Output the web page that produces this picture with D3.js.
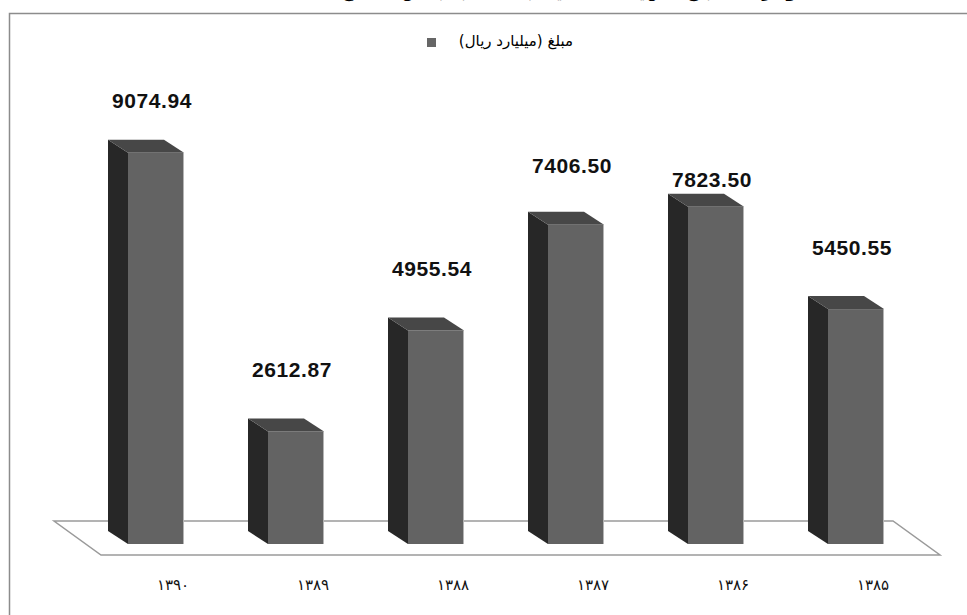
<!DOCTYPE html>
<html>
<head>
<meta charset="utf-8">
<script src="https://cdn.jsdelivr.net/npm/d3@7"></script>
<style>
  body { margin: 0; background: #fff; }
  svg { display: block; }
</style>
</head>
<body>
<div id="chart"></div>
<script>
// data
var years = ["۱۳۹۰", "۱۳۸۹", "۱۳۸۸", "۱۳۸۷", "۱۳۸۶", "۱۳۸۵"];
var amounts = [9074.94, 2612.87, 4955.54, 7406.50, 7823.50, 5450.55];
var valueLabels = ["9074.94", "2612.87", "4955.54", "7406.50", "7823.50", "5450.55"];
var seriesName = "مبلغ (میلیارد ریال)";
var titleText = "نمودار ۱۲- مبلغ تسهیلات اعطایی بانک ها به بخش مسکن طی سال های ۱۳۸۵ تا ۱۳۹۰";

// svg container
var svgWidth = 967;
var svgHeight = 615;

var svg = d3.select("#chart")
  .append("svg")
  .attr("width", svgWidth)
  .attr("height", svgHeight);

// 3d depth of each bar and of the floor
var depthX = 20, depthY = 13;
var floorDX = 47, floorDY = 34;

// scales
var xScale = d3.scaleBand()
  .domain(years)
  .range([86, 926])
  .paddingInner(0.6)
  .paddingOuter(0.3);

var yScale = d3.scaleLinear()
  .domain([0, 10000])
  .range([544, 113]);

// caption line, cut off by the top edge in the original
svg.append("text")
  .attr("x", 815)
  .attr("y", -3)
  .attr("direction", "rtl")
  .attr("text-anchor", "start")
  .attr("font-family", "DejaVu Sans")
  .attr("font-weight", "bold")
  .attr("font-size", 17)
  .text(titleText);

// chart frame
svg.append("rect")
  .attr("x", 9.5)
  .attr("y", 13.5)
  .attr("width", 980)
  .attr("height", 700)
  .attr("fill", "none")
  .attr("stroke", "#8c8c8c")
  .attr("stroke-width", 1.5);

// legend
var legend = svg.append("g");
legend.append("rect")
  .attr("x", 427)
  .attr("y", 38)
  .attr("width", 9)
  .attr("height", 9)
  .attr("fill", "#666");
legend.append("text")
  .attr("x", 573)
  .attr("y", 46)
  .attr("direction", "rtl")
  .attr("text-anchor", "start")
  .attr("font-family", "DejaVu Sans")
  .attr("font-size", 15)
  .attr("fill", "#000")
  .text(seriesName);

// floor (category axis plane)
var floorBack = yScale(0) - 23;
var floorLeft = xScale.range()[0] - 32;
var floorRight = xScale.range()[1] - 33;
svg.append("path")
  .attr("d", d3.line()([
    [floorLeft, floorBack],
    [floorRight, floorBack],
    [floorRight + floorDX, floorBack + floorDY],
    [floorLeft + floorDX, floorBack + floorDY]
  ]) + "Z")
  .attr("fill", "#fff")
  .attr("stroke", "#9a9a9a")
  .attr("stroke-width", 1.5);

// bars
var bars = svg.selectAll(".bar")
  .data(amounts)
  .enter()
  .append("g")
  .attr("class", "bar");

// side face
bars.append("path")
  .attr("fill", "#272727")
  .attr("d", function(d, i) {
    var x = xScale(years[i]), top = yScale(d), bottom = yScale(0);
    return d3.line()([[x, top], [x - depthX, top - depthY], [x - depthX, bottom - depthY], [x, bottom]]) + "Z";
  });

// top face
bars.append("path")
  .attr("fill", "#474747")
  .attr("d", function(d, i) {
    var x = xScale(years[i]), w = xScale.bandwidth(), top = yScale(d);
    return d3.line()([[x, top], [x - depthX, top - depthY], [x + w - depthX, top - depthY], [x + w, top]]) + "Z";
  });

// front face
bars.append("rect")
  .attr("x", (d, i) => xScale(years[i]))
  .attr("y", d => yScale(d))
  .attr("width", xScale.bandwidth())
  .attr("height", d => yScale(0) - yScale(d))
  .attr("fill", "#636363");

// light right edge
bars.append("line")
  .attr("x1", (d, i) => xScale(years[i]) + xScale.bandwidth() - 0.5)
  .attr("x2", (d, i) => xScale(years[i]) + xScale.bandwidth() - 0.5)
  .attr("y1", d => yScale(d))
  .attr("y2", yScale(0))
  .attr("stroke", "#b5b5b5")
  .attr("stroke-width", 1);

// value labels (a couple were nudged by hand in the original)
var labelNudge = [9, 0, 0, 2, 34, 0];
svg.selectAll(".valueLabel")
  .data(amounts)
  .enter()
  .append("text")
  .attr("class", "valueLabel")
  .attr("x", (d, i) => xScale(years[i]) + 24)
  .attr("y", (d, i) => yScale(d) - depthY - 41 + labelNudge[i])
  .attr("text-anchor", "middle")
  .attr("font-family", "Liberation Sans")
  .attr("font-weight", "bold")
  .attr("font-size", 21)
  .attr("letter-spacing", 0.6)
  .attr("fill", "#111")
  .text((d, i) => valueLabels[i]);

// category labels
svg.selectAll(".yearLabel")
  .data(years)
  .enter()
  .append("text")
  .attr("class", "yearLabel")
  .attr("x", d => xScale(d) + xScale.bandwidth() / 2 + 17)
  .attr("y", 590)
  .attr("text-anchor", "middle")
  .attr("font-family", "DejaVu Sans")
  .attr("font-size", 15)
  .attr("letter-spacing", 1.5)
  .attr("fill", "#111")
  .text(d => d);
</script>
</body>
</html>
